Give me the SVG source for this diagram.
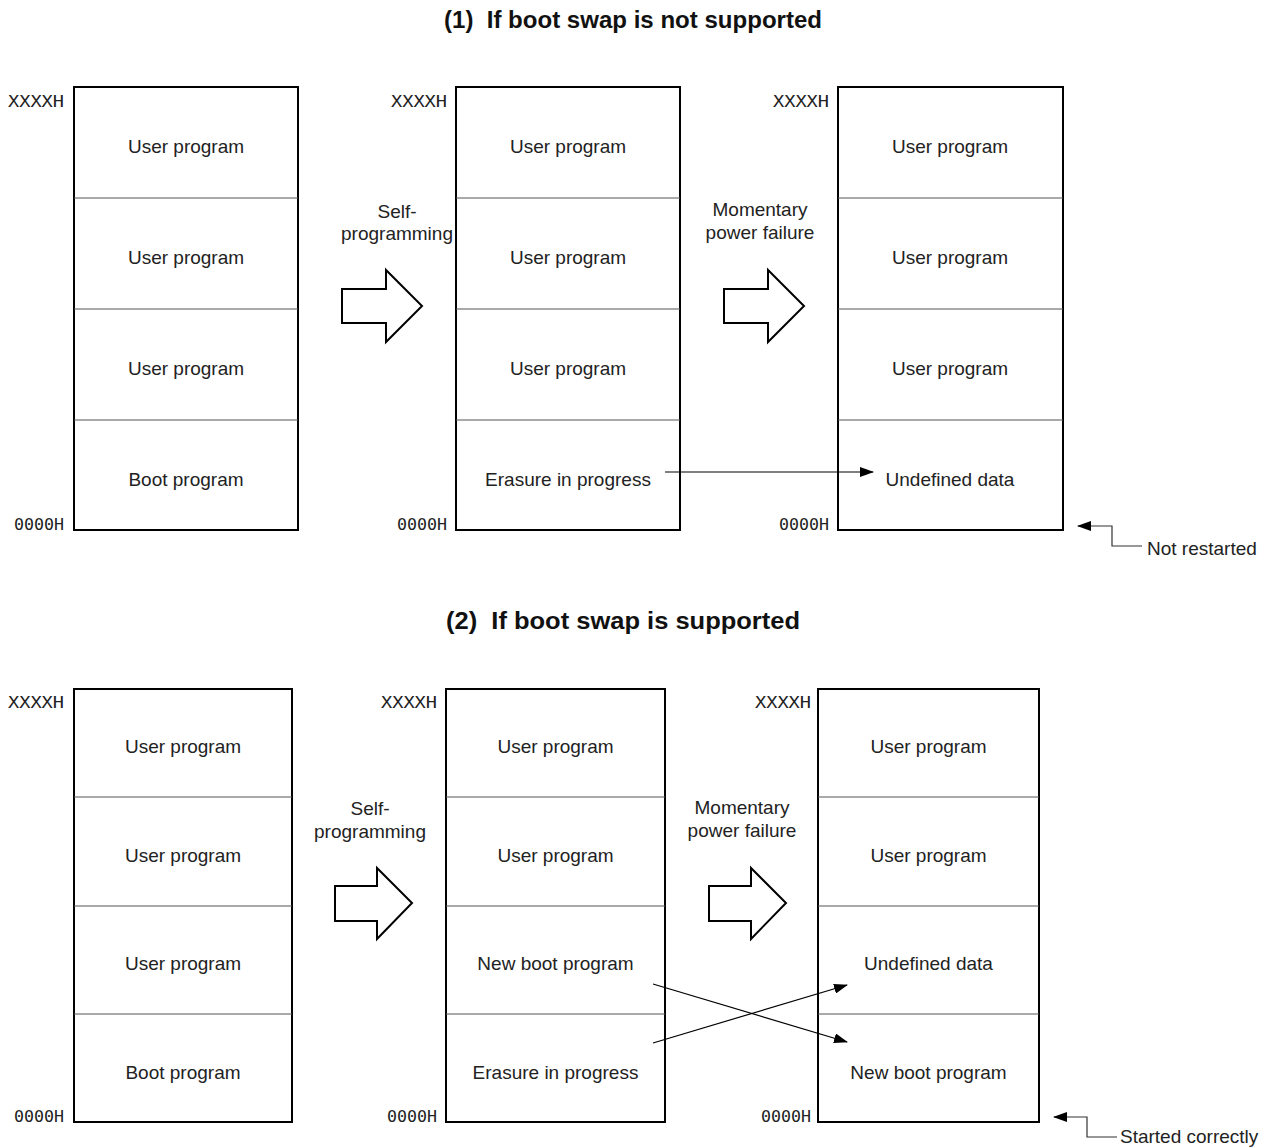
<svg xmlns="http://www.w3.org/2000/svg" width="1272" height="1148" viewBox="0 0 1272 1148">
<style>
.box{fill:#fff;stroke:#000;stroke-width:2}
.div{stroke:#555;stroke-width:1}
.t{font-family:"Liberation Sans",Arial,sans-serif;font-size:19px;fill:#222;text-anchor:middle}
.title{font-family:"Liberation Sans",Arial,sans-serif;font-size:23px;font-weight:bold;fill:#111}
.addr{font-family:"DejaVu Sans Mono","Liberation Mono",monospace;font-size:16px;fill:#222}
.blk{fill:#fff;stroke:#000;stroke-width:2}
.ln{stroke:#000;stroke-width:1.2;fill:none}
.call{stroke:#333;stroke-width:1.2;fill:none}
</style>
<defs>
<marker id="ah" markerWidth="14" markerHeight="10" refX="13" refY="5" orient="auto" markerUnits="userSpaceOnUse">
<path d="M0,0 L14,5 L0,10 Z" fill="#000"/>
</marker>
</defs>
<rect width="1272" height="1148" fill="#fff"/>

<text class="title" x="444" y="28" textLength="378" lengthAdjust="spacingAndGlyphs" xml:space="preserve">(1)  If boot swap is not supported</text>
<text class="title" x="446" y="629" textLength="354" lengthAdjust="spacingAndGlyphs" xml:space="preserve">(2)  If boot swap is supported</text>

<!-- Section 1 -->
<g id="s1-mem1">
<rect class="box" x="74" y="87" width="224" height="443"/>
<line class="div" x1="74" y1="198" x2="298" y2="198"/>
<line class="div" x1="74" y1="309" x2="298" y2="309"/>
<line class="div" x1="74" y1="420" x2="298" y2="420"/>
<text class="t" x="186" y="153">User program</text>
<text class="t" x="186" y="264">User program</text>
<text class="t" x="186" y="375">User program</text>
<text class="t" x="186" y="486">Boot program</text>
<text class="addr" x="8" y="107" textLength="56" lengthAdjust="spacingAndGlyphs">XXXXH</text>
<text class="addr" x="14" y="530" textLength="50" lengthAdjust="spacingAndGlyphs">0000H</text>
</g>
<g id="s1-mem2">
<rect class="box" x="456" y="87" width="224" height="443"/>
<line class="div" x1="456" y1="198" x2="680" y2="198"/>
<line class="div" x1="456" y1="309" x2="680" y2="309"/>
<line class="div" x1="456" y1="420" x2="680" y2="420"/>
<text class="t" x="568" y="153">User program</text>
<text class="t" x="568" y="264">User program</text>
<text class="t" x="568" y="375">User program</text>
<text class="t" x="568" y="486">Erasure in progress</text>
<text class="addr" x="391" y="107" textLength="56" lengthAdjust="spacingAndGlyphs">XXXXH</text>
<text class="addr" x="397" y="530" textLength="50" lengthAdjust="spacingAndGlyphs">0000H</text>
</g>
<g id="s1-mem3">
<rect class="box" x="838" y="87" width="225" height="443"/>
<line class="div" x1="838" y1="198" x2="1063" y2="198"/>
<line class="div" x1="838" y1="309" x2="1063" y2="309"/>
<line class="div" x1="838" y1="420" x2="1063" y2="420"/>
<text class="t" x="950" y="153">User program</text>
<text class="t" x="950" y="264">User program</text>
<text class="t" x="950" y="375">User program</text>
<text class="t" x="950" y="486">Undefined data</text>
<text class="addr" x="773" y="107" textLength="56" lengthAdjust="spacingAndGlyphs">XXXXH</text>
<text class="addr" x="779" y="530" textLength="50" lengthAdjust="spacingAndGlyphs">0000H</text>
</g>
<g id="s1-step1">
<text class="t" x="397" y="218">Self-</text>
<text class="t" x="397" y="240">programming</text>
<path class="blk" d="M342,289 L386,289 L386,270 L422,306 L386,342 L386,323 L342,323 Z"/>
</g>
<g id="s1-step2">
<text class="t" x="760" y="216">Momentary</text>
<text class="t" x="760" y="239">power failure</text>
<path class="blk" d="M724,289 L768,289 L768,270 L804,306 L768,342 L768,323 L724,323 Z"/>
</g>
<g id="s1-note">
<text class="t" x="1147" y="555" style="text-anchor:start">Not restarted</text>
</g>

<!-- Section 2 -->
<g id="s2-mem1">
<rect class="box" x="74" y="689" width="218" height="433"/>
<line class="div" x1="74" y1="797" x2="292" y2="797"/>
<line class="div" x1="74" y1="906" x2="292" y2="906"/>
<line class="div" x1="74" y1="1014" x2="292" y2="1014"/>
<text class="t" x="183" y="753">User program</text>
<text class="t" x="183" y="862">User program</text>
<text class="t" x="183" y="970">User program</text>
<text class="t" x="183" y="1079">Boot program</text>
<text class="addr" x="8" y="708" textLength="56" lengthAdjust="spacingAndGlyphs">XXXXH</text>
<text class="addr" x="14" y="1122" textLength="50" lengthAdjust="spacingAndGlyphs">0000H</text>
</g>
<g id="s2-mem2">
<rect class="box" x="446" y="689" width="219" height="433"/>
<line class="div" x1="446" y1="797" x2="665" y2="797"/>
<line class="div" x1="446" y1="906" x2="665" y2="906"/>
<line class="div" x1="446" y1="1014" x2="665" y2="1014"/>
<text class="t" x="555.5" y="753">User program</text>
<text class="t" x="555.5" y="862">User program</text>
<text class="t" x="555.5" y="970">New boot program</text>
<text class="t" x="555.5" y="1079">Erasure in progress</text>
<text class="addr" x="381" y="708" textLength="56" lengthAdjust="spacingAndGlyphs">XXXXH</text>
<text class="addr" x="387" y="1122" textLength="50" lengthAdjust="spacingAndGlyphs">0000H</text>
</g>
<g id="s2-mem3">
<rect class="box" x="818" y="689" width="221" height="433"/>
<line class="div" x1="818" y1="797" x2="1039" y2="797"/>
<line class="div" x1="818" y1="906" x2="1039" y2="906"/>
<line class="div" x1="818" y1="1014" x2="1039" y2="1014"/>
<text class="t" x="928.5" y="753">User program</text>
<text class="t" x="928.5" y="862">User program</text>
<text class="t" x="928.5" y="970">Undefined data</text>
<text class="t" x="928.5" y="1079">New boot program</text>
<text class="addr" x="755" y="708" textLength="56" lengthAdjust="spacingAndGlyphs">XXXXH</text>
<text class="addr" x="761" y="1122" textLength="50" lengthAdjust="spacingAndGlyphs">0000H</text>
</g>
<g id="s2-step1">
<text class="t" x="370" y="815">Self-</text>
<text class="t" x="370" y="838">programming</text>
<path class="blk" d="M335,886 L377,886 L377,868 L412,903 L377,939 L377,921 L335,921 Z"/>
</g>
<g id="s2-step2">
<text class="t" x="742" y="814">Momentary</text>
<text class="t" x="742" y="837">power failure</text>
<path class="blk" d="M709,886 L751,886 L751,868 L786,903 L751,939 L751,921 L709,921 Z"/>
</g>
<g id="s2-note">
<text class="t" x="1120" y="1143" style="text-anchor:start">Started correctly</text>
</g>

<g id="connectors">
<line class="ln" x1="665" y1="472" x2="873" y2="472" marker-end="url(#ah)"/>
<polyline class="call" points="1142,546 1112,546 1112,526 1078,526" marker-end="url(#ah)"/>
<line class="ln" x1="653" y1="984" x2="847" y2="1042" marker-end="url(#ah)"/>
<line class="ln" x1="653" y1="1043" x2="847" y2="985" marker-end="url(#ah)"/>
<polyline class="call" points="1117,1137 1087,1137 1087,1117 1054,1117" marker-end="url(#ah)"/>
</g>
</svg>
